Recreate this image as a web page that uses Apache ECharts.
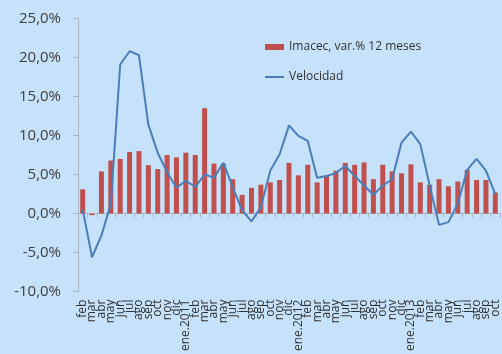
<!DOCTYPE html>
<html>
<head>
<meta charset="utf-8">
<script src="https://cdn.jsdelivr.net/npm/echarts@6/dist/echarts.min.js"></script>
<style>
  html, body { margin: 0; padding: 0; background: #C6E1FA; }
  #chart { width: 502px; height: 354px; }
</style>
</head>
<body>
<div id="chart"></div>
<script>
// Monthly categories, feb 2010 – oct 2013
const months = [
  'feb','mar','abr','may','jun','jul','ago','sep','oct','nov','dic',
  'ene.2011','feb','mar','abr','may','jun','jul','ago','sep','oct','nov','dic',
  'ene.2012','feb','mar','abr','may','jun','jul','ago','sep','oct','nov','dic',
  'ene.2013','feb','mar','abr','may','jun','jul','ago','sep','oct'
];

// Imacec, 12-month % change
const imacec = [
  3.1, -0.2, 5.4, 6.8, 7.0, 7.9, 8.0, 6.2, 5.7, 7.5, 7.2,
  7.8, 7.5, 13.5, 6.4, 6.4, 4.4, 2.4, 3.3, 3.7, 4.0, 4.3, 6.5,
  4.9, 6.25, 4.0, 4.85, 5.5, 6.5, 6.25, 6.55, 4.4, 6.25, 5.4, 5.15,
  6.3, 4.0, 3.7, 4.4, 3.5, 4.1, 5.6, 4.3, 4.3, 2.7
];

// Velocidad (annualised momentum)
const velocidad = [
  0.5, -5.6, -2.8, 1.2, 19.1, 20.8, 20.3, 11.4, 7.8, 5.3, 3.3,
  4.2, 3.4, 5.0, 4.6, 6.5, 3.4, 0.4, -1.0, 0.8, 5.5, 7.6, 11.3,
  9.95, 9.3, 4.6, 4.8, 5.2, 6.1, 4.85, 3.6, 2.4, 3.6, 4.4, 9.1,
  10.5, 8.9, 3.6, -1.45, -1.1, 1.3, 5.6, 7.0, 5.5, 2.5
];

// Value axis range and step
const yMin = -10, yMax = 25, yStep = 5;

const seriesNames = ['Imacec, var.% 12 meses', 'Velocidad'];

const font = '"Open Sans", "Liberation Sans", sans-serif';
const axisGray = '#A9B6C4';
const barColor = '#C0504D';
const lineColor = '#4A7EBB';

const chart = echarts.init(document.getElementById('chart'), null, { renderer: 'canvas' });
chart.setOption({
  backgroundColor: '#C6E1FA',
  animation: false,
  textStyle: { fontFamily: font },
  grid: { left: 78, right: 2, top: 18.5, bottom: 60, containLabel: false },
  legend: {
    orient: 'vertical',
    left: 265,
    top: 41,
    padding: 0,
    itemWidth: 19,
    itemHeight: 6,
    itemGap: 18,
    textStyle: { fontFamily: font, fontSize: 12, color: '#333' },
    data: [
      { name: seriesNames[0], icon: 'rect' },
      // thin horizontal stroke as the line-series key
      { name: seriesNames[1], icon: 'path://M0,0H19V2H0Z' }
    ]
  },
  xAxis: [
    {
      type: 'category',
      data: months,
      position: 'bottom',
      axisLine: { show: false, onZero: false },
      axisTick: { show: false },
      axisLabel: {
        interval: 0,
        rotate: 90,
        margin: 8,
        fontSize: 12,
        color: '#333',
        fontFamily: font
      }
    },
    {
      type: 'category',
      data: months,
      position: 'bottom',
      axisLine: { show: true, onZero: true, lineStyle: { color: axisGray, width: 1 } },
      axisTick: { show: true, length: 4, interval: 0, lineStyle: { color: axisGray } },
      axisLabel: { show: false }
    }
  ],
  yAxis: {
    type: 'value',
    min: yMin,
    max: yMax,
    interval: yStep,
    splitLine: { show: false },
    axisLine: { show: true, lineStyle: { color: axisGray } },
    axisTick: { show: true, length: 5, lineStyle: { color: axisGray } },
    axisLabel: {
      margin: 17,
      fontSize: 15,
      color: '#404040',
      fontFamily: font,
      formatter: v => v.toFixed(1).replace('.', ',') + '%'
    }
  },
  series: [
    {
      name: seriesNames[0],
      type: 'bar',
      xAxisIndex: 0,
      data: imacec,
      barWidth: 5,
      itemStyle: { color: barColor }
    },
    {
      name: seriesNames[1],
      type: 'line',
      xAxisIndex: 0,
      data: velocidad,
      symbol: 'none',
      lineStyle: { color: lineColor, width: 2 },
      itemStyle: { color: lineColor }
    }
  ]
});
</script>
</body>
</html>
